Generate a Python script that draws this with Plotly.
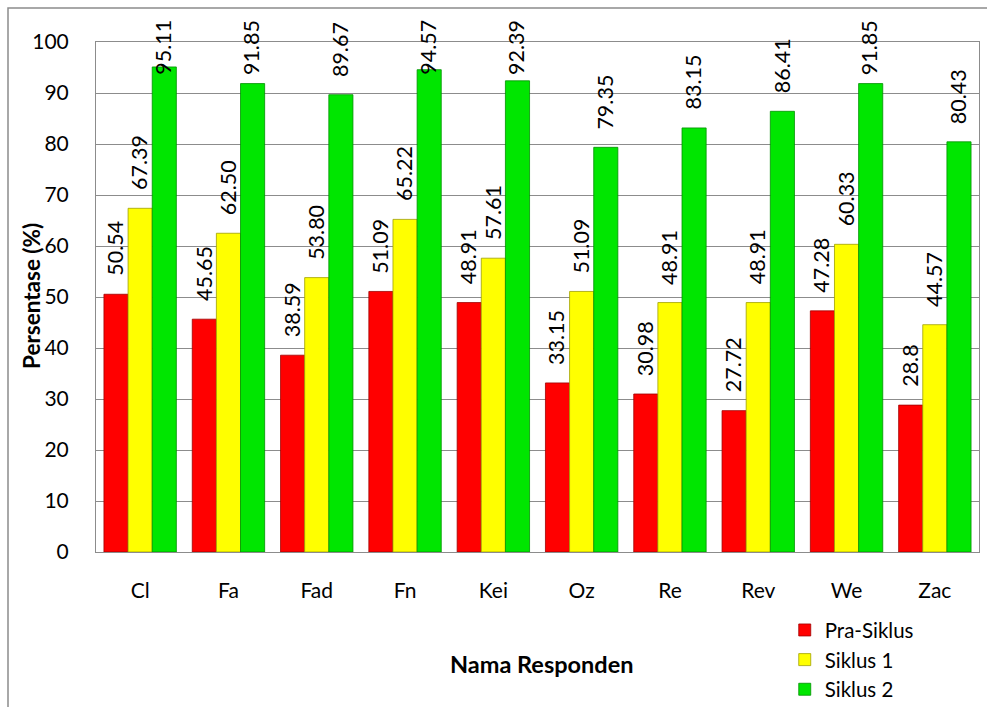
import plotly.graph_objects as go

categories = ["Cl", "Fa", "Fad", "Fn", "Kei", "Oz", "Re", "Rev", "We", "Zac"]
pra_siklus = [50.54, 45.65, 38.59, 51.09, 48.91, 33.15, 30.98, 27.72, 47.28, 28.8]
pra_labels = ["50.54", "45.65", "38.59", "51.09", "48.91", "33.15", "30.98", "27.72", "47.28", "28.8"]
siklus1 = [67.39, 62.50, 53.80, 65.22, 57.61, 51.09, 48.91, 48.91, 60.33, 44.57]
siklus1_labels = ["67.39", "62.50", "53.80", "65.22", "57.61", "51.09", "48.91", "48.91", "60.33", "44.57"]
siklus2 = [95.11, 91.85, 89.67, 94.57, 92.39, 79.35, 83.15, 86.41, 91.85, 80.43]
siklus2_labels = ["95.11", "91.85", "89.67", "94.57", "92.39", "79.35", "83.15", "86.41", "91.85", "80.43"]

FONT = "Lato, Noto Sans, sans-serif"

# layout geometry (pixels)
W, H = 987, 707
ML, MR, MT, MB = 96, 8, 42, 155
PW, PH = W - ML - MR, H - MT - MB
BARGAP = 0.18
YMAX = 100
LABEL_PAD = 16      # px gap between bar top and label
LABEL_LEN = 60      # approx px length of rotated label
LABEL_TOP = 18      # labels are kept below this y (px from top)

series = [
    ("Pra-Siklus", pra_siklus, pra_labels, "#ff0000", "#a00000"),
    ("Siklus 1", siklus1, siklus1_labels, "#ffff00", "#a0a000"),
    ("Siklus 2", siklus2, siklus2_labels, "#00e600", "#009000"),
]

fig = go.Figure()
for name, vals, labels, color, edge in series:
    fig.add_trace(go.Bar(
        name=name, x=categories, y=vals,
        marker=dict(color=color, line=dict(color=edge, width=0.8)),
    ))

# data labels as annotations, positioned from the data values
bar_w = PW / len(categories) * (1 - BARGAP) / len(series)
px_per_unit = PH / YMAX
for i, (name, vals, labels, color, edge) in enumerate(series):
    xs = (i - (len(series) - 1) / 2) * bar_w - 1
    for cat, v, lab in zip(categories, vals, labels):
        bar_top_px = MT + PH - v * px_per_unit
        if bar_top_px - LABEL_PAD - LABEL_LEN < LABEL_TOP:
            fig.add_annotation(text=lab, x=cat, xref="x", y=(MT + PH - LABEL_TOP) / PH,
                               yref="paper", yanchor="top", xshift=xs,
                               textangle=-90, showarrow=False,
                               font=dict(family=FONT, size=21.5, color="black"))
        else:
            fig.add_annotation(text=lab, x=cat, xref="x", y=v, yref="y",
                               yanchor="bottom", yshift=LABEL_PAD, xshift=xs,
                               textangle=-90, showarrow=False,
                               font=dict(family=FONT, size=21.5, color="black"))

fig.update_layout(
    width=W, height=H,
    barmode="group", bargap=BARGAP, bargroupgap=0,
    plot_bgcolor="white", paper_bgcolor="white",
    margin=dict(l=ML, r=MR, t=MT, b=MB, autoexpand=False),
    font=dict(family=FONT, size=21, color="black"),
    showlegend=True,
    legend=dict(x=0.78, y=-0.114, xanchor="left", yanchor="top",
                font=dict(family=FONT, size=20.5), tracegroupgap=0,
                itemwidth=30, bgcolor="rgba(0,0,0,0)"),
)
fig.update_yaxes(
    range=[0, YMAX], dtick=10, showgrid=True, gridcolor="#8c8c8c", gridwidth=1,
    showline=True, linecolor="#8c8c8c", mirror=True, ticks="",
    tickfont=dict(size=21), zeroline=False, ticklabelstandoff=22,
    automargin=False,
)
fig.update_xaxes(
    showline=True, linecolor="#8c8c8c", mirror=True, ticks="",
    tickfont=dict(size=21), ticklabelstandoff=20, automargin=False,
)

# axis titles
fig.add_annotation(text="<b>Persentase (%)</b>", xref="paper", yref="paper",
                   x=(31 - ML) / PW, y=(MT + PH - 296) / PH, xanchor="center", yanchor="middle",
                   textangle=-90, showarrow=False, font=dict(size=22.5))
fig.add_annotation(text="<b>Nama Responden</b>", xref="paper", yref="paper",
                   x=(542 - ML) / PW, y=(MT + PH - 664) / PH, xanchor="center",
                   yanchor="middle", showarrow=False, font=dict(size=23.5))

# outer chart border
fig.add_shape(type="rect", xref="paper", yref="paper",
              x0=(8 - ML) / PW, x1=1.2, y0=-0.6, y1=(MT + PH - 8) / PH,
              line=dict(color="#8c8c8c", width=1.5), fillcolor="rgba(0,0,0,0)", layer="below")

fig.write_html("out.html")
